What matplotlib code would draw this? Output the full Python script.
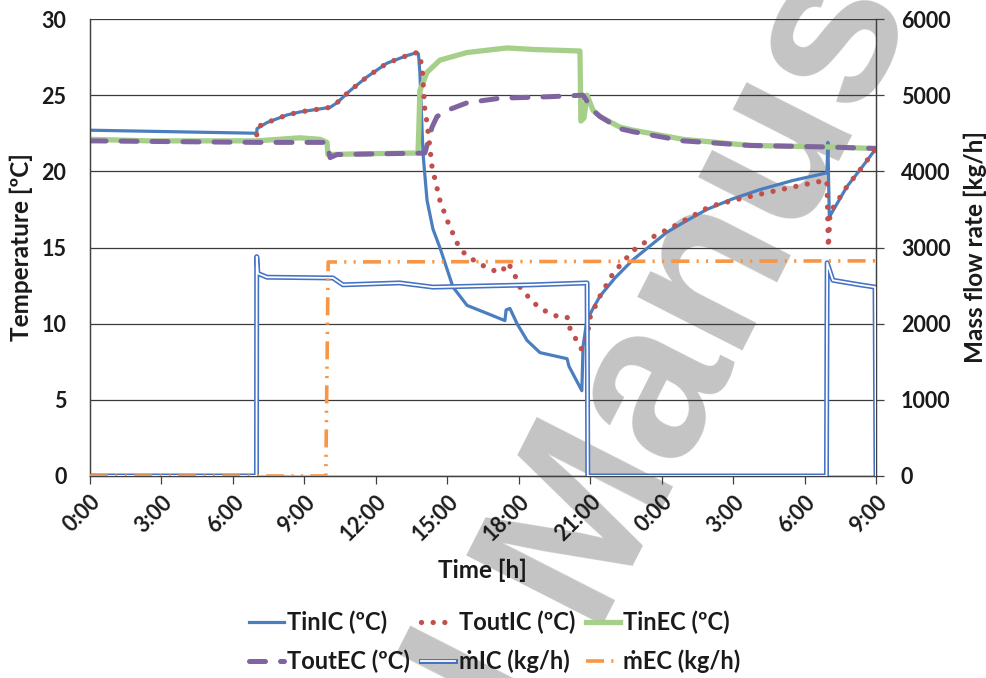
import matplotlib
matplotlib.use("Agg")
import matplotlib.pyplot as plt
import matplotlib.patheffects as pe
import numpy as np

# ---------------- data (time in hours from 0:00 of day 1) ----------------
tin_ic_t = [0.0, 7.0, 7.01, 7.43, 8.27, 8.82, 10.08, 10.37, 10.92, 11.63, 12.47, 13.31, 13.73, 13.79,
            13.85, 13.98, 14.15, 14.40, 14.69, 15.24, 15.83, 16.79, 17.42, 17.47, 17.63, 17.93, 18.35,
            18.89, 20.03, 20.11, 20.65, 20.70, 20.86, 21.12, 21.41, 22.04, 22.80, 23.51, 24.22, 24.98,
            25.90, 26.99, 28.13, 29.51, 30.94, 30.98, 31.04, 31.78, 32.33, 33.0]
tin_ic_v = [22.7, 22.5, 22.8, 23.2, 23.7, 23.9, 24.2, 24.5, 25.3, 26.2, 27.1, 27.6, 27.8, 27.7,
            26.5, 21.2, 18.1, 16.2, 15.0, 12.4, 11.2, 10.6, 10.2, 10.9, 11.0, 10.0, 8.9,
            8.1, 7.7, 7.2, 5.6, 8.5, 10.2, 11.0, 11.8, 13.0, 14.2, 15.1, 16.0, 16.7,
            17.5, 18.2, 18.8, 19.4, 19.9, 21.9, 17.0, 19.0, 20.1, 21.5]

tout_ic_t = [7.0, 7.01, 7.43, 8.27, 8.82, 10.08, 10.37, 10.92, 11.63, 12.47, 13.31, 13.73, 13.81,
             13.94, 14.06, 14.15, 14.36, 14.69, 14.99, 15.41, 15.66, 16.25, 16.92, 17.30, 17.51, 17.72,
             18.05, 18.60, 19.02, 19.73, 20.07, 20.15, 20.36, 20.57, 20.65, 20.87, 20.99, 21.41, 21.96,
             22.80, 23.64, 24.64, 26.03, 27.29, 28.42, 29.60, 30.52, 30.94, 31.0, 31.07, 31.78,
             32.33, 33.0]
tout_ic_v = [22.4, 22.9, 23.2, 23.7, 23.9, 24.2, 24.5, 25.3, 26.2, 27.1, 27.6, 27.8, 27.7,
             26.9, 24.0, 23.2, 20.3, 18.1, 16.8, 15.3, 14.7, 14.0, 13.5, 13.4, 14.0, 13.6,
             12.4, 11.4, 10.9, 10.4, 10.4, 9.7, 9.1, 8.5, 8.3, 9.1, 10.4, 11.8, 13.3,
             14.8, 15.7, 16.5, 17.7, 18.2, 18.6, 19.0, 19.3, 19.4, 15.0, 17.3, 19.0,
             20.1, 21.5]

tin_ec_t = [0.0, 2.5, 5.0, 7.0, 8.8, 9.66, 9.95, 9.99, 11.3, 13.77, 13.81, 13.85, 14.15, 14.69, 15.83,
            17.51, 18.60, 20.57, 20.61, 20.74, 20.87, 21.12, 21.41, 22.25, 22.80, 24.90, 27.71,
            30.94, 33.0]
tin_ec_v = [22.1, 22.0, 22.0, 22.0, 22.2, 22.1, 21.9, 21.1, 21.15, 21.2, 23.0, 25.3, 26.5, 27.3, 27.8,
            28.1, 28.0, 27.9, 23.3, 23.5, 25.0, 24.0, 23.6, 22.9, 22.7, 22.1, 21.7,
            21.6, 21.5]

tout_ec_t = [0.0, 7.0, 9.95, 10.08, 10.37, 14.06, 14.36, 14.57, 14.99, 15.83, 17.21, 19.31, 20.70,
             21.12, 21.41, 22.25, 22.80, 24.90, 27.71, 30.94, 33.0]
tout_ec_v = [22.0, 21.9, 21.9, 20.9, 21.1, 21.2, 22.9, 23.6, 24.0, 24.5, 24.8, 24.9, 25.0,
             24.0, 23.6, 22.8, 22.6, 22.0, 21.7, 21.6, 21.5]

m_ic_t = [0.0, 6.99, 7.0, 7.05, 7.43, 10.2, 10.62, 13.0, 14.4, 18.6, 20.87, 20.90, 30.92, 30.95,
          31.19, 32.33, 32.96, 33.0]
m_ic_v = [0, 0, 2880, 2660, 2610, 2600, 2510, 2535, 2480, 2510, 2535, 0, 0, 2800,
          2570, 2510, 2480, 0]

m_ec_t = [0.0, 9.90, 10.0, 33.0]
m_ec_v = [0, 0, 2810, 2825]

x_ticks = list(range(0, 34, 3))
x_labels = ["0:00", "3:00", "6:00", "9:00", "12:00", "15:00", "18:00", "21:00",
            "0:00", "3:00", "6:00", "9:00"]
t_ticks = [0, 5, 10, 15, 20, 25, 30]
m_ticks = [0, 1000, 2000, 3000, 4000, 5000, 6000]

# ---------------- styling ----------------
FONT = ["Lato", "DejaVu Sans"]
plt.rcParams['font.family'] = FONT
plt.rcParams['font.weight'] = 'bold'

c_blue = '#4A7EBF'
c_red = '#C0504D'
c_green = '#A6CF8A'
c_purple = '#8064A2'
c_mic = '#4472C4'
c_orange = '#F79646'

W, H = 987, 678
fig = plt.figure(figsize=(W / 100, H / 100), dpi=100)

# watermark behind everything
WF = 160
wm_kw = dict(rotation=63, rotation_mode='anchor', va='baseline', fontsize=WF,
             color='#c4c4c4', family=['Liberation Sans'], fontweight='bold', zorder=-1)
ang = np.deg2rad(63)
ax_px, ay_px = 588, 625
fig.text(ax_px / W, 1 - ay_px / H, "Manuscript", ha='left', **wm_kw)
sp = 0.278 * WF * 100 / 72
fig.text((ax_px - sp * np.cos(ang)) / W, 1 - (ay_px + sp * np.sin(ang)) / H, "Accepted",
         ha='right', **wm_kw)

ax = fig.add_axes([90 / W, 1 - 476 / H, (876 - 90) / W, (476 - 19) / H])
ax.patch.set_alpha(0)
ax2 = ax.twinx()

ax.set_xlim(0, 33)
ax.set_ylim(0, 30)
ax2.set_ylim(0, 6000)

ax.set_yticks(t_ticks)
ax2.set_yticks(m_ticks)
ax.set_xticks(x_ticks)
ax.set_xticklabels(x_labels, rotation=45, ha='right', rotation_mode='anchor')

ax.grid(axis='y', color='#3a3a3a', lw=0.9)
ax.set_axisbelow(True)

for a in (ax, ax2):
    for s in a.spines.values():
        s.set_color('#404040')
        s.set_linewidth(0.9)
ax.spines['top'].set_visible(False)
ax2.spines['top'].set_visible(False)

TS = 15.5
ax.tick_params(axis='y', length=0, pad=17, labelsize=TS)
ax.tick_params(axis='x', length=6, width=0.9, color='#404040', pad=5, labelsize=TS)
ax2.tick_params(axis='y', length=6, width=0.9, color='#404040', pad=12, labelsize=TS)
for lab in ax.get_xticklabels() + ax.get_yticklabels() + ax2.get_yticklabels():
    lab.set_fontweight('bold')
    lab.set_color('#1a1a1a')

# temperature series
l1, = ax.plot(tin_ic_t, tin_ic_v, color=c_blue, lw=2.3, label='TinIC (ºC)', zorder=3)
l3, = ax.plot(tin_ec_t, tin_ec_v, color=c_green, lw=3.8, label='TinEC (ºC)', zorder=3)
l4, = ax.plot(tout_ec_t, tout_ec_v, color=c_purple, lw=3.6, ls=(0, (3.2, 3.0)),
              dash_capstyle='round', label='ToutEC (ºC)', zorder=4)
l2, = ax.plot(tout_ic_t, tout_ic_v, color=c_red, lw=3.8, ls=(0, (0.01, 2.2)),
              dash_capstyle='round', label='ToutIC (ºC)', zorder=5)

# mass flow series
l5, = ax2.plot(m_ic_t, m_ic_v, color='white', lw=1.3, label='ṁIC (kg/h)', zorder=3,
               path_effects=[pe.Stroke(linewidth=3.6, foreground=c_mic), pe.Normal()])
l6, = ax2.plot(m_ec_t, m_ec_v, color=c_orange, lw=2.6, ls=(0, (5, 2, 0.6, 2, 0.6, 2)),
               label='ṁEC (kg/h)', zorder=4)

LS = 17.5
fig.text(21 / W, 1 - 247.5 / H, 'Temperature [ºC]', rotation=90, ha='center', va='center',
         fontsize=LS, fontweight='bold', color='#1a1a1a')
fig.text(975 / W, 1 - 247.5 / H, 'Mass flow rate [kg/h]', rotation=90, ha='center', va='center',
         fontsize=LS, fontweight='bold', color='#1a1a1a')
fig.text(482.5 / W, 1 - 570 / H, 'Time [h]', ha='center', va='center',
         fontsize=LS, fontweight='bold', color='#1a1a1a')

handles = [l1, l4, l2, l5, l3, l6]
leg = fig.legend(handles=handles, labels=[h.get_label() for h in handles], ncol=3,
                 loc='center', bbox_to_anchor=(495 / W, 1 - 642 / H), frameon=False,
                 prop={'size': 17, 'weight': 'bold'}, handlelength=1.45,
                 columnspacing=0.45, handletextpad=0.15, labelspacing=0.65)
for t in leg.get_texts():
    t.set_color('#1a1a1a')

fig.savefig('out.png', dpi=100)
